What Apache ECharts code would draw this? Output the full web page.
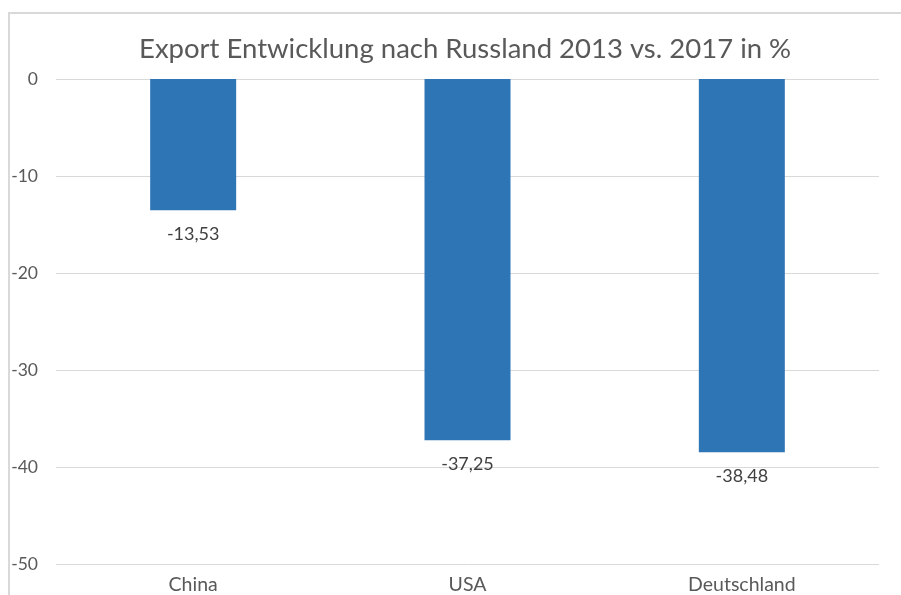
<!DOCTYPE html>
<html><head><meta charset="utf-8">
<script src="https://cdn.jsdelivr.net/npm/echarts@6/dist/echarts.min.js"></script>
<style>html,body{margin:0;padding:0;background:#fff}#c{width:901px;height:595px}</style>
</head><body><div id="c"></div>
<script>
const categories = ['China', 'USA', 'Deutschland'];
const values = [-13.53, -37.25, -38.48];
const yTicks = { min: -50, max: 0, interval: 10 };
const titleText = 'Export Entwicklung nach Russland 2013 vs. 2017 in %';

const chart = echarts.init(document.getElementById('c'));
const font = 'Lato, "Open Sans", sans-serif';
chart.setOption({
  animation: false,
  backgroundColor: '#fff',
  graphic: [{
    type: 'rect', shape: { x: 9, y: 13, width: 920, height: 620 },
    style: { fill: 'none', stroke: '#d9d9d9', lineWidth: 2 }, silent: true, z: -1
  }],
  title: {
    text: titleText, left: 134, top: 30,
    textStyle: { fontFamily: font, fontSize: 27.5, fontWeight: 'normal', color: '#595959' }
  },
  grid: { left: 56, right: 22, top: 79, bottom: 25, containLabel: false },
  xAxis: {
    type: 'category', data: categories, position: 'bottom',
    axisLine: { show: false, onZero: false }, axisTick: { show: false },
    axisLabel: { fontFamily: font, fontSize: 19.5, color: '#595959', margin: 11 }
  },
  yAxis: {
    type: 'value', min: yTicks.min, max: yTicks.max, interval: yTicks.interval,
    axisLine: { show: false }, axisTick: { show: false },
    splitLine: { lineStyle: { color: '#d9d9d9', width: 1 } },
    axisLabel: { fontFamily: font, fontSize: 17.5, color: '#595959', margin: 18 }
  },
  series: [{
    type: 'bar', data: values, barWidth: 86,
    itemStyle: { color: '#2E75B6' },
    label: {
      show: true, position: 'bottom', distance: 15,
      fontFamily: font, fontSize: 18, color: '#404040',
      formatter: p => p.value.toFixed(2).replace('.', ',')
    }
  }]
});
</script></body></html>
